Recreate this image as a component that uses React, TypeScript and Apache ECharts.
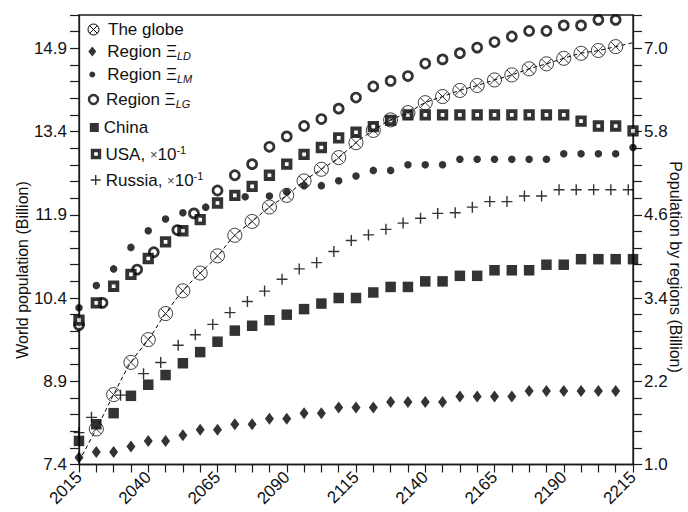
import React, { useEffect, useRef } from "react";
import * as echarts from "echarts";

// Sampling years shared by most series (every 6.25 years)
const years = [
  2015, 2021.25, 2027.5, 2033.75, 2040, 2046.25, 2052.5, 2058.75, 2065, 2071.25,
  2077.5, 2083.75, 2090, 2096.25, 2102.5, 2108.75, 2115, 2121.25, 2127.5, 2133.75,
  2140, 2146.25, 2152.5, 2158.75, 2165, 2171.25, 2177.5, 2183.75, 2190, 2196.25,
  2202.5, 2208.75, 2215,
];

// World population, billions (left axis); first and last entries only shape the fitted curve
const globePop = [
  7.46, 8.04, 8.66, 9.24, 9.65, 10.12, 10.53, 10.85, 11.16, 11.53,
  11.78, 12.04, 12.25, 12.51, 12.72, 12.93, 13.2, 13.42, 13.61, 13.74,
  13.92, 14.03, 14.14, 14.23, 14.33, 14.42, 14.53, 14.62, 14.72, 14.81,
  14.86, 14.93, 15.0,
];

// Regional populations, billions (right axis)
const regionLD = [
  1.10, 1.18, 1.18, 1.26, 1.34, 1.34, 1.42, 1.50, 1.50, 1.58,
  1.58, 1.66, 1.66, 1.74, 1.74, 1.82, 1.82, 1.82, 1.90, 1.90,
  1.90, 1.90, 1.98, 1.98, 1.98, 1.98, 2.06, 2.06, 2.06, 2.06,
  2.06, 2.06,
];

const regionLMYears = [
  2015, 2021.25, 2027.5, 2033.75, 2040, 2046.25, 2052.5, 2060.75, 2075,
  2083.75, 2090, 2096.25, 2102.5, 2108.75, 2115, 2121.25, 2127.5, 2133.75,
  2140, 2146.25, 2152.5, 2158.75, 2165, 2171.25, 2177.5, 2183.75, 2190, 2196.25,
  2202.5, 2208.75, 2215,
];
const regionLM = [
  3.26, 3.58, 3.82, 4.13, 4.37, 4.54, 4.63, 4.71, 4.86,
  4.87, 4.93, 5.02, 5.02, 5.09, 5.16, 5.24, 5.24, 5.32, 5.32,
  5.32, 5.40, 5.40, 5.40, 5.40, 5.40, 5.40, 5.48, 5.48, 5.48,
  5.48, 5.57,
];

const regionLGYears = [
  2015, 2023.5, 2036, 2042, 2050.5, 2056.5,
  2065, 2071.25, 2077.5, 2083.75, 2090, 2096.25, 2102.5, 2108.75, 2115, 2121.25,
  2127.5, 2133.75, 2140, 2146.25, 2152.5, 2158.75, 2165, 2171.25, 2177.5, 2183.75,
  2190, 2196.25, 2202.5, 2208.75,
];
const regionLG = [
  3.01, 3.33, 3.81, 4.06, 4.38, 4.62,
  4.95, 5.17, 5.33, 5.58, 5.73, 5.88, 5.98, 6.13, 6.29, 6.45,
  6.53, 6.60, 6.78, 6.84, 6.93, 7.01, 7.09, 7.17, 7.25, 7.25,
  7.33, 7.33, 7.41, 7.41,
];

const china = [
  1.34, 1.58, 1.74, 1.99, 2.15, 2.29, 2.46, 2.62, 2.77, 2.93,
  3.00, 3.08, 3.16, 3.24, 3.32, 3.40, 3.40, 3.48, 3.56, 3.56,
  3.64, 3.64, 3.72, 3.72, 3.80, 3.80, 3.80, 3.88, 3.88, 3.96,
  3.96, 3.96, 3.96,
];

// USA and Russia are plotted in units of 0.1 billion
const usa = [
  3.08, 3.33, 3.57, 3.74, 3.97, 4.21, 4.37, 4.53, 4.77, 4.88,
  5.01, 5.17, 5.33, 5.47, 5.57, 5.71, 5.79, 5.87, 5.96, 6.04,
  6.04, 6.04, 6.04, 6.04, 6.04, 6.04, 6.04, 6.04, 6.04, 5.95,
  5.88, 5.88, 5.81,
];

const russiaYears = [
  2015, 2019.5, 2030, 2038.3, 2044.5, 2050.8, 2057, 2063.3, 2069.5, 2075.8,
  2082, 2088.3, 2094.5, 2100.8, 2107, 2113.3, 2119.5, 2125.8, 2132, 2138.3,
  2144.5, 2150.8, 2157, 2163.3, 2169.5, 2175.8, 2182, 2188.3, 2194.5, 2200.8,
  2207, 2213.3,
];
const russia = [
  1.46, 1.68, 2.00, 2.31, 2.47, 2.72, 2.87, 3.02, 3.19, 3.35,
  3.50, 3.67, 3.82, 3.91, 4.07, 4.23, 4.31, 4.39, 4.48, 4.55,
  4.62, 4.63, 4.71, 4.79, 4.79, 4.87, 4.87, 4.96, 4.96, 4.96,
  4.96, 4.96,
];

const leftTitle = "World population (Billion)";
const rightTitle = "Population by regions (Billion)";

const FONT = "'Liberation Sans', Arial, Helvetica, sans-serif";
const INK = "#111";
const AXIS = "#1c1c1c";

const GLOBE_SYMBOL =
  "path://M10,0C10,5.52 5.52,10 0,10C-5.52,10 -10,5.52 -10,0C-10,-5.52 -5.52,-10 0,-10C5.52,-10 10,-5.52 10,0Z" +
  "M-7.07,-7.07L7.07,7.07M7.07,-7.07L-7.07,7.07";
const DIAMOND_SYMBOL = "path://M4,0L8,5L4,10L0,5Z";
const PLUS_SYMBOL = "path://M5,0L5,10M0,5L10,5";
const CLEAR = "rgba(0,0,0,0)";

const pairs = (xs: number[], ys: number[]) => ys.map((v, i) => [xs[i], v]);

const LEGEND_SIZE = 17;

const richFor = (lead: number) => ({
  h: { fontSize: LEGEND_SIZE, lineHeight: 20, color: INK, fontFamily: FONT, padding: [0, 0, 0, lead] },
  t: { fontSize: LEGEND_SIZE, lineHeight: 20, color: INK, fontFamily: FONT },
  s: { fontSize: 11, lineHeight: 11, color: INK, fontFamily: FONT, fontStyle: "italic", verticalAlign: "bottom" },
  p: { fontSize: 11, lineHeight: 11, color: INK, fontFamily: FONT, verticalAlign: "top" },
  x: { fontSize: 13, lineHeight: 20, color: "#444", fontFamily: FONT },
});

type Row = {
  name: string;
  label: string;
  lead: number;
  left: number;
  top: number;
  w: number;
  h: number;
  icon: string;
  style: Record<string, unknown>;
};

const legendRows: Row[] = [
  { name: "The globe", label: "{h|The globe}", lead: 4, left: 87.5, top: 21, w: 11, h: 11, icon: GLOBE_SYMBOL, style: { color: CLEAR, borderColor: "#000", borderWidth: 1 } },
  { name: "Region LD", label: "{h|Region Ξ}{s|LD}", lead: 6, left: 88.3, top: 43, w: 8, h: 10, icon: DIAMOND_SYMBOL, style: { color: "#000", borderWidth: 0 } },
  { name: "Region LM", label: "{h|Region Ξ}{s|LM}", lead: 7, left: 89.3, top: 66, w: 6, h: 6, icon: "circle", style: { color: "#000", borderWidth: 0 } },
  { name: "Region LG", label: "{h|Region Ξ}{s|LG}", lead: 3, left: 87.8, top: 91, w: 9, h: 9, icon: "circle", style: { color: "#fff", borderColor: "#000", borderWidth: 2.4 } },
  { name: "China", label: "{h|China}", lead: 0, left: 89.8, top: 119, w: 9, h: 9, icon: "rect", style: { color: "#000", borderWidth: 0 } },
  { name: "USA", label: "{h|USA, }{x|×}{t|10}{p|-1}", lead: 1, left: 90.8, top: 144, w: 7, h: 7, icon: "rect", style: { color: "#fff", borderColor: "#000", borderWidth: 3.4 } },
  { name: "Russia", label: "{h|Russia, }{x|×}{t|10}{p|-1}", lead: 0, left: 90, top: 170, w: 10, h: 10, icon: PLUS_SYMBOL, style: { color: CLEAR, borderColor: "#000", borderWidth: 1.4 } },
];

const tickLabel = (every: number, digits: number) => (v: number, i: number) =>
  i % every === 0 ? v.toFixed(digits) : "";

const axisBase = {
  axisLine: { show: true, lineStyle: { color: AXIS, width: 1.3 } },
  axisTick: { show: true, inside: false, length: 9, lineStyle: { color: AXIS, width: 1.2 } },
  splitLine: { show: false },
};

const labelStyle = { fontSize: 17, color: INK, fontFamily: FONT };
const titleStyle = { fontSize: 16, fill: INK, fontFamily: FONT, align: "center", verticalAlign: "middle" };

const option = {
  animation: false,
  backgroundColor: "#fff",
  textStyle: { fontFamily: FONT },
  grid: { left: 79, right: 55, top: 15, bottom: 47.5, show: true, borderColor: AXIS, borderWidth: 1.3 },
  graphic: [
    { type: "text", x: 22, y: 270, rotation: Math.PI / 2, silent: true, style: { ...titleStyle, text: leftTitle } },
    { type: "text", x: 675, y: 267, rotation: -Math.PI / 2, silent: true, style: { ...titleStyle, text: rightTitle } },
  ],
  legend: legendRows.map((r) => ({
    left: r.left,
    top: r.top,
    padding: 0,
    itemWidth: r.w,
    itemHeight: r.h,
    selectedMode: false,
    textStyle: { fontSize: LEGEND_SIZE, color: INK, fontFamily: FONT, rich: richFor(r.lead) },
    formatter: r.label,
    data: [{ name: r.name, icon: r.icon, itemStyle: r.style }],
  })),
  xAxis: {
    type: "value",
    min: 2015,
    max: 2215,
    interval: 6.25,
    ...axisBase,
    axisTick: { show: true, inside: false, length: 8, lineStyle: { color: AXIS, width: 1.2 } },
    axisLabel: { ...labelStyle, rotate: 45, margin: 10, formatter: tickLabel(4, 0) },
  },
  yAxis: [
    {
      type: "value",
      position: "left",
      min: 7.4,
      max: 15.5,
      interval: 0.3,
      ...axisBase,
      axisLabel: { ...labelStyle, margin: 12, formatter: tickLabel(5, 1) },
    },
    {
      type: "value",
      position: "right",
      min: 1.0,
      max: 7.48,
      interval: 0.24,
      ...axisBase,
      axisLabel: { ...labelStyle, margin: 11, formatter: tickLabel(5, 1) },
    },
  ],
  series: [
    {
      name: "China",
      type: "scatter",
      yAxisIndex: 1,
      symbol: "rect",
      symbolSize: 10.5,
      itemStyle: { color: "#000" },
      data: pairs(years, china),
    },
    {
      name: "Region LD",
      type: "scatter",
      yAxisIndex: 1,
      symbol: DIAMOND_SYMBOL,
      symbolSize: [9, 12],
      itemStyle: { color: "#000" },
      data: pairs(years, regionLD),
    },
    {
      name: "Russia",
      type: "scatter",
      yAxisIndex: 1,
      symbol: PLUS_SYMBOL,
      symbolSize: 11,
      itemStyle: { color: CLEAR, borderColor: "#000", borderWidth: 1.4 },
      data: pairs(russiaYears, russia),
    },
    {
      name: "Region LM",
      type: "scatter",
      yAxisIndex: 1,
      symbol: "circle",
      symbolSize: 7.5,
      itemStyle: { color: "#000" },
      data: pairs(regionLMYears, regionLM),
    },
    {
      name: "Region LG",
      type: "scatter",
      yAxisIndex: 1,
      symbol: "circle",
      symbolSize: 9,
      itemStyle: { color: "#fff", borderColor: "#000", borderWidth: 2.7 },
      data: pairs(regionLGYears, regionLG),
    },
    {
      name: "USA",
      type: "scatter",
      yAxisIndex: 1,
      symbol: "rect",
      symbolSize: 7.5,
      itemStyle: { color: "#fff", borderColor: "#000", borderWidth: 3.8 },
      data: pairs(years, usa),
    },
    {
      name: "The globe",
      type: "line",
      yAxisIndex: 0,
      smooth: 0.4,
      symbol: GLOBE_SYMBOL,
      symbolSize: 14,
      showAllSymbol: true,
      itemStyle: { color: CLEAR, borderColor: "#222", borderWidth: 0.9 },
      lineStyle: { color: "#000", width: 1, type: [4, 3] },
      data: globePop.map((v, i) =>
        i === 0 || i === globePop.length - 1
          ? { value: [years[i], v], symbol: "none" }
          : [years[i], v]
      ),
    },
  ],
};

export default function App() {
  const ref = useRef<HTMLDivElement>(null);
  useEffect(() => {
    if (!ref.current) return;
    const chart = echarts.init(ref.current, null, { renderer: "svg" });
    chart.setOption(option as any);
    return () => chart.dispose();
  }, []);
  return (
    <div
      ref={ref}
      style={{ position: "fixed", left: 0, top: 0, width: 688, height: 512, background: "#fff" }}
    />
  );
}
